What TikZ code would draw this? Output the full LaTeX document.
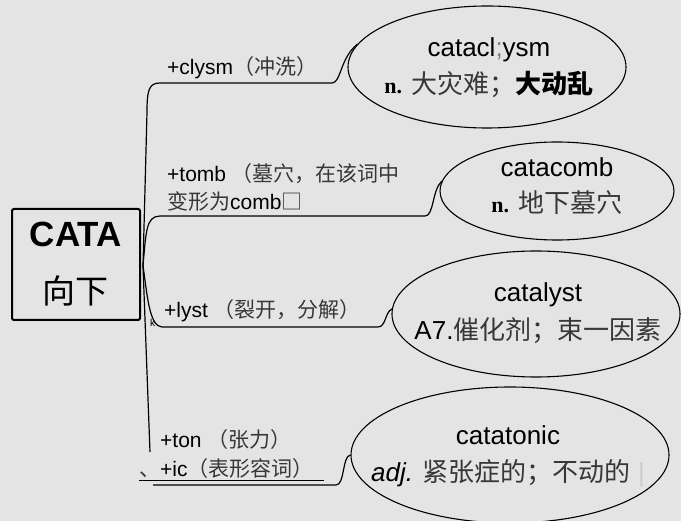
\documentclass[tikz,border=0pt]{standalone}
\usepackage{fontspec}
\setmainfont{Liberation Sans}
\newfontfamily\cjk{Noto Sans CJK SC}
\newfontfamily\nfont{Liberation Serif}
\usetikzlibrary{shapes.geometric}
\definecolor{paper}{RGB}{228,228,228}
\definecolor{hanzi}{RGB}{55,55,55}
\newcommand\zh[1]{{\cjk\color{hanzi}#1}}

\begin{document}
\begin{tikzpicture}[x=1pt,y=-1pt,
    word/.style={ellipse,draw,line width=1.1pt,inner sep=0pt},
    wordtext/.style={align=center,inner sep=0pt,font=\fontsize{26}{37}\selectfont},
    branch/.style={draw,line width=1.2pt},
    lbl/.style={anchor=base west,inner sep=0pt,font=\fontsize{21}{28}\selectfont}]
  \useasboundingbox[fill=paper] (0,0) rectangle (681,521);
  \node[draw,line width=2pt,rounded corners=2pt,minimum width=128pt,minimum height=111pt,align=center,inner sep=0pt,
        font=\fontsize{35}{57}\selectfont] (cata) at (76,264.5) {\bfseries CATA\\{\cjk\fontsize{33}{57}\selectfont 向下}};
  % the four words
  \node[word,minimum width=278pt,minimum height=122pt] (e1) at (487,67) {};
  \node[word,minimum width=234pt,minimum height=98pt] (e2) at (557,191) {};
  \node[word,minimum width=288pt,minimum height=126pt] (e3) at (536,314) {};
  \node[word,minimum width=318pt,minimum height=136pt] (e4) at (510,455) {};
  \node[wordtext] (t1) at (489,68)
    {catacl{\color{gray};}ysm\\{\nfont\bfseries\fontsize{22}{37}\selectfont n.} \zh{大灾难；}{\cjk\bfseries 大动乱}};
  \node[wordtext,font=\fontsize{26}{36}\selectfont] (t2) at (557,186)
    {catacomb\\{\nfont\bfseries\fontsize{22}{36}\selectfont n.} \zh{地下墓穴}};
  \node[wordtext,font=\fontsize{26}{38}\selectfont] (t3) at (538,313)
    {catalyst\\A7.\zh{催化剂；束一因素}};
  \node[wordtext] (t4) at (508,456)
    {catatonic\\{\itshape adj.} \zh{紧张症的；不动的}\ {\color{gray!40}|}};
  % labels on the branches
  \node[lbl] (l1) at (167,75) {+clysm\zh{（冲洗）}};
  \node[lbl] (l2a) at (167,182) {+tomb \zh{（墓穴，在该词中}};
  \node[lbl] (l2b) at (167,210) {\zh{变形为}comb\zh{□}};
  \node[lbl] (l3) at (164,318) {+lyst \zh{（裂开，分解）}};
  \node[lbl,font=\fontsize{10}{10}\selectfont] (kmark) at (150,327) {k};
  \node[lbl] (l4a) at (160,448) {+ton \zh{（张力）}};
  \node[lbl] (l4b) at (139,477) {\zh{、}+ic\zh{（表形容词）}};
  % branches
  \coordinate (hub) at (143,266);
  \coordinate (tail) at (150,452);
  \coordinate (b4) at (153,485);
  \coordinate (ul1) at (139,480);
  \coordinate (ul2) at (324,480);
  \draw[branch] (hub) -- (147,112) .. controls (147,90) and (149,83) .. (160,83) -- (332,83)
    .. controls (341,83) and (340,58) .. (e1.170);
  \draw[branch] (hub) .. controls (146,232) and (146,216) .. (160,216) -- (425,216)
    .. controls (434,216) and (432,190) .. (e2.175);
  \draw[branch] (hub) .. controls (147,292) and (149,327) .. (162,327) -- (378,327)
    .. controls (386,327) and (385,312) .. (e3.178);
  \draw[branch] (hub) -- (tail);
  \draw[branch] (b4) -- (336,485) .. controls (345,485) and (342,456) .. (e4.west);
  \draw[line width=0.9pt] (ul1) -- (ul2);
\end{tikzpicture}
\end{document}
